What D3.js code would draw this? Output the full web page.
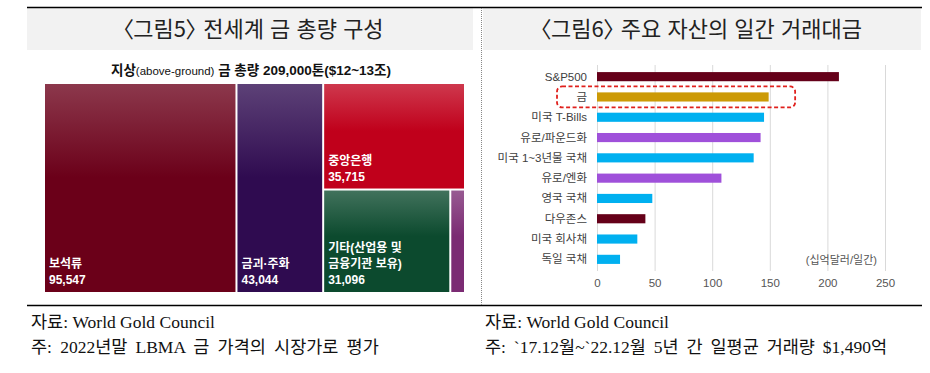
<!DOCTYPE html>
<html lang="ko">
<head>
<meta charset="UTF-8">
<title>그림5 / 그림6</title>
<script src="https://cdn.jsdelivr.net/npm/d3@7"></script>
<style>
  body { margin: 0; background: #fff; }
  svg { display: block; }
</style>
</head>
<body>
<div id="chart"></div>
<script>
// Treemap data (tonnes)
var treeNames = ["보석류", "금괴·주화", "중앙은행", "기타(산업용 및|금융기관 보유)", "미상"];
var treeValues = [95547, 43044, 35715, 31096, 3598];
var treeColors = ["#6b0019", "#2f0b50", "#c0001b", "#0c4a2e", "#7b2b73"];

// Bar chart data (십억달러/일간)
var assets = ["S&P500", "금", "미국 T-Bills", "유로/파운드화", "미국 1~3년물 국채", "유로/엔화", "영국 국채", "다우존스", "미국 회사채", "독일 국채"];
var volumes = [210, 149, 145, 142, 136, 108, 48, 42, 35, 20];
var barColors = ["#650019", "#cc9a06", "#00b0f0", "#9f50da", "#00b0f0", "#9f50da", "#00b0f0", "#650019", "#00b0f0", "#00b0f0"];
var xTicks = [0, 50, 100, 150, 200, 250];

var W = 930, H = 373;
var svg = d3.select("#chart").append("svg")
  .attr("width", W)
  .attr("height", H);

var defs = svg.append("defs");

// Frame lines and headers
svg.append("rect").attr("x", 27).attr("y", 8).attr("width", 446).attr("height", 42).attr("fill", "#f2f2f2");
svg.append("rect").attr("x", 483).attr("y", 8).attr("width", 438).attr("height", 42).attr("fill", "#f2f2f2");
svg.append("line").attr("x1", 27).attr("x2", 922).attr("y1", 7.5).attr("y2", 7.5).attr("stroke", "#000").attr("stroke-width", 1.5);
svg.append("line").attr("x1", 27).attr("x2", 922).attr("y1", 305.5).attr("y2", 305.5).attr("stroke", "#000").attr("stroke-width", 1.5);
svg.append("line").attr("x1", 481.5).attr("x2", 481.5).attr("y1", 8).attr("y2", 305)
  .attr("stroke", "#888").attr("stroke-width", 1).attr("stroke-dasharray", "1,1");

var titleFont = "'Noto Sans CJK KR', 'Noto Sans', sans-serif";
svg.append("text").attr("x", 253).attr("y", 37).attr("text-anchor", "middle")
  .style("font-family", titleFont).style("font-size", "22px").style("font-weight", 400)
  .style("font-feature-settings", "'palt'").attr("fill", "#222")
  .text("〈그림5〉 전세계 금 총량 구성");
svg.append("text").attr("x", 701).attr("y", 37).attr("text-anchor", "middle")
  .style("font-family", titleFont).style("font-size", "22px").style("font-weight", 400)
  .style("font-feature-settings", "'palt'").attr("fill", "#222")
  .text("〈그림6〉 주요 자산의 일간 거래대금");

// Treemap -------------------------------------
var sansFont = "'Liberation Sans', 'Noto Sans CJK KR', sans-serif";

var sub = svg.append("text").attr("x", 251).attr("y", 75).attr("text-anchor", "middle")
  .style("font-family", sansFont).style("font-size", "13.5px").style("font-weight", "bold").attr("fill", "#111");
sub.append("tspan").text("지상");
sub.append("tspan").style("font-weight", "normal").style("font-size", "11.5px").text("(above-ground)");
sub.append("tspan").text(" 금 총량 209,000톤($12~13조)");

var leaf = function(i) { return { name: treeNames[i], value: treeValues[i], idx: i }; };
var treeData = { children: [leaf(0), leaf(1), { children: [leaf(2), { children: [leaf(3), leaf(4)] }] }] };

var root = d3.hierarchy(treeData).sum(function(d) { return d.value || 0; });
d3.treemap()
  .tile(d3.treemapSliceDice)
  .size([419, 208])
  .paddingInner(2)(root);

var tg = svg.append("g").attr("transform", "translate(45,84)");

root.leaves().forEach(function(d) {
  var base = treeColors[d.data.idx];
  var grad = defs.append("linearGradient").attr("id", "grad" + d.data.idx)
    .attr("x1", 0).attr("y1", 0).attr("x2", 0).attr("y2", 1);
  grad.append("stop").attr("offset", "0%").attr("stop-color", d3.interpolateRgb(base, "#ffffff")(0.22));
  grad.append("stop").attr("offset", "45%").attr("stop-color", base);
  grad.append("stop").attr("offset", "100%").attr("stop-color", base);
});

var cells = tg.selectAll("g.cell")
  .data(root.leaves())
  .enter()
  .append("g")
  .attr("class", "cell")
  .attr("transform", function(d) { return "translate(" + d.x0 + "," + d.y0 + ")"; });

cells.append("rect")
  .attr("width", function(d) { return d.x1 - d.x0; })
  .attr("height", function(d) { return d.y1 - d.y0; })
  .attr("fill", function(d) { return "url(#grad" + d.data.idx + ")"; });

// Labels at the bottom-left of the cells
cells.filter(function(d) { return d.data.idx < 4; }).each(function(d) {
  var lines = d.data.name.split("|");
  lines.push(d3.format(",")(d.data.value));
  var h = d.y1 - d.y0;
  d3.select(this).selectAll("text")
    .data(lines)
    .enter()
    .append("text")
    .attr("x", 4)
    .attr("y", function(t, i) { return h - 8 - (lines.length - 1 - i) * 16; })
    .style("font-family", sansFont)
    .style("font-size", "12px")
    .style("font-weight", "bold")
    .attr("fill", "#fff")
    .text(function(t) { return t; });
});

// Bar chart -------------------------------------
var xScale = d3.scaleLinear()
  .domain([0, 250])
  .range([597, 885]);

var yScale = d3.scaleBand()
  .domain(assets)
  .range([66, 270])
  .paddingInner(0.55)
  .paddingOuter(0.3);

// Grid lines
svg.append("g")
  .attr("transform", "translate(0,271)")
  .call(d3.axisBottom(xScale).tickValues(xTicks).tickSize(-206).tickFormat(""))
  .call(function(g) { g.select(".domain").remove(); })
  .call(function(g) { g.selectAll(".tick line").attr("stroke", "#d9d9d9"); });

// Tick labels
svg.append("g")
  .attr("transform", "translate(0,276)")
  .call(d3.axisBottom(xScale).tickValues(xTicks).tickSize(0))
  .call(function(g) { g.select(".domain").remove(); })
  .call(function(g) {
    g.selectAll(".tick text")
      .style("font-family", sansFont)
      .style("font-size", "11.5px")
      .attr("fill", "#555");
  });

svg.selectAll("rect.bar")
  .data(volumes)
  .enter()
  .append("rect")
  .attr("class", "bar")
  .attr("x", xScale(0))
  .attr("y", function(d, i) { return yScale(assets[i]); })
  .attr("width", function(d) { return xScale(d) - xScale(0); })
  .attr("height", yScale.bandwidth())
  .attr("fill", function(d, i) { return barColors[i]; });

svg.selectAll("text.cat")
  .data(assets)
  .enter()
  .append("text")
  .attr("class", "cat")
  .attr("x", xScale(0) - 10)
  .attr("y", function(d) { return yScale(d) + yScale.bandwidth() / 2; })
  .attr("dy", "0.35em")
  .attr("text-anchor", "end")
  .style("font-family", sansFont)
  .style("font-size", "11.5px")
  .attr("fill", "#404040")
  .text(function(d) { return d; });

// Red dashed box round the gold bar
var gy = yScale("금") + yScale.bandwidth() / 2;
svg.append("rect")
  .attr("x", xScale(0) - 40)
  .attr("y", gy - 10.5)
  .attr("width", xScale(172) - xScale(0) + 40)
  .attr("height", 21)
  .attr("rx", 5)
  .attr("fill", "none")
  .attr("stroke", "#e0201c")
  .attr("stroke-width", 1.8)
  .attr("stroke-dasharray", "4,2.5");

svg.append("text")
  .attr("x", xScale(243))
  .attr("y", 264)
  .attr("text-anchor", "end")
  .style("font-family", sansFont)
  .style("font-size", "11px")
  .attr("fill", "#555")
  .text("(십억달러/일간)");

// Footnotes -------------------------------------
var noteFont = "'Liberation Serif', 'Noto Sans CJK KR', serif";
var notes = [
  [31, 328, 0, "자료: World Gold Council"],
  [31, 353, 3.8, "주: 2022년말 LBMA 금 가격의 시장가로 평가"],
  [485, 328, 0, "자료: World Gold Council"],
  [485, 353, 3.5, "주: `17.12월~`22.12월 5년 간 일평균 거래량 $1,490억"]
];
svg.selectAll("text.note")
  .data(notes)
  .enter()
  .append("text")
  .attr("class", "note")
  .attr("x", function(d) { return d[0]; })
  .attr("y", function(d) { return d[1]; })
  .style("font-family", noteFont)
  .style("font-size", "17.5px")
  .style("word-spacing", function(d) { return d[2] + "px"; })
  .attr("fill", "#111")
  .text(function(d) { return d[3]; });
</script>
</body>
</html>
